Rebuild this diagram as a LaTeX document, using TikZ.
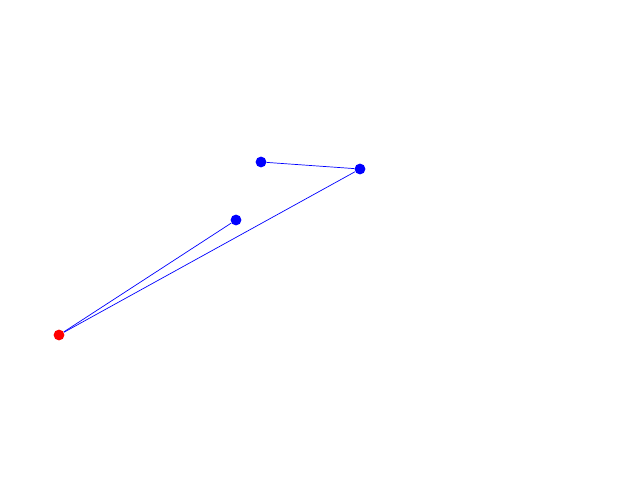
\documentclass[tikz,border=0pt]{standalone}
\usepackage{xcolor}
\usepackage{tikz}

\begin{document}
\begin{tikzpicture}[
      src/.style={circle, fill=red, inner sep=0pt, minimum size=0.27cm},
      pt/.style={circle, fill=blue, inner sep=0pt, minimum size=0.27cm},
      lnk/.style={blue, line width=0.5pt}
  ]
    \useasboundingbox (0,0) rectangle (16,12);
    \node[src] (o) at (1.475,3.625) {};
    \node[pt]  (a) at (5.9,6.5) {};
    \node[pt]  (b) at (6.525,7.95) {};
    \node[pt]  (c) at (9.0,7.775) {};
    \draw[lnk] (o)--(a); \draw[lnk] (o)--(c); \draw[lnk] (c)--(b);
  \end{tikzpicture}
\end{document}
